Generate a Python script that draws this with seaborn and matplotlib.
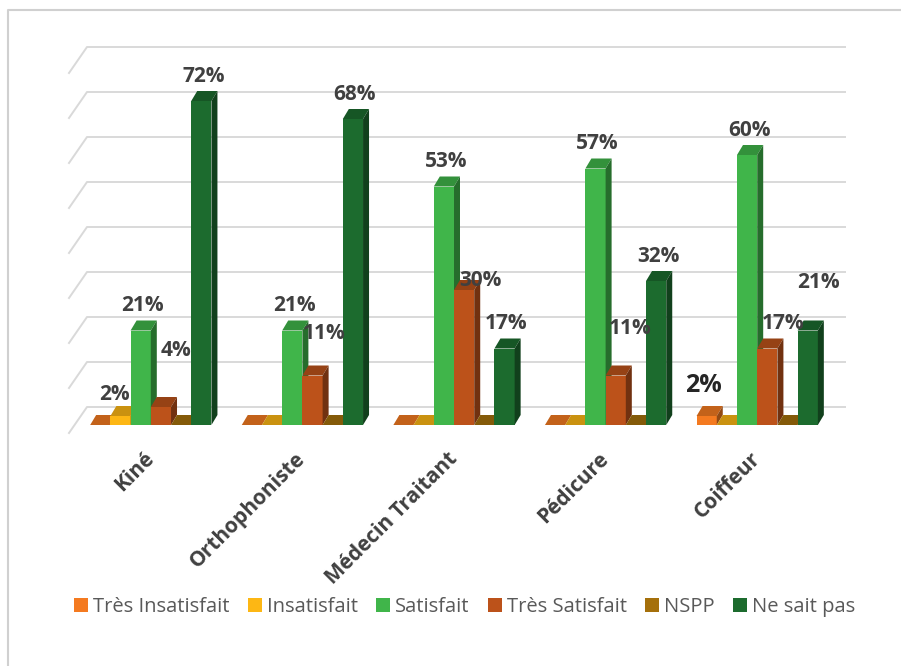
import numpy as np
import pandas as pd
import matplotlib.pyplot as plt
import matplotlib.colors as mcolors
from matplotlib.patches import Polygon, Patch
import seaborn as sns

# Data
services = ["Kiné", "Orthophoniste", "Médecin Traitant", "Pédicure", "Coiffeur"]
avis = ["Très Insatisfait", "Insatisfait", "Satisfait", "Très Satisfait", "NSPP", "Ne sait pas"]
tres_insatisfait = [0, 0, 0, 0, 2]
insatisfait = [2, 0, 0, 0, 0]
satisfait = [21, 21, 53, 57, 60]
tres_satisfait = [4, 11, 30, 11, 17]
nspp = [0, 0, 0, 0, 0]
ne_sait_pas = [72, 68, 17, 32, 21]
colors = ["#F47A20", "#FDB714", "#40B54A", "#BC521A", "#A5700B", "#1C6B2E"]

series = [tres_insatisfait, insatisfait, satisfait, tres_satisfait, nspp, ne_sait_pas]
df = pd.DataFrame({
    "service": np.repeat(services, len(avis)),
    "avis": avis * len(services),
    "pct": [series[j][i] for i in range(len(services)) for j in range(len(avis))],
})

# label nudges in pixels (dx, dy up) for the hand-placed Excel labels
nudges = {
    ("Kiné", "Insatisfait"): (-8, -3),
    ("Kiné", "Très Satisfait"): (13, 32),
    ("Orthophoniste", "Très Satisfait"): (10, 17),
    ("Médecin Traitant", "Très Satisfait"): (14, -16),
    ("Pédicure", "Très Satisfait"): (12, 22),
    ("Coiffeur", "Très Insatisfait"): (-5, 6),
    ("Coiffeur", "Très Satisfait"): (14, 0),
    ("Coiffeur", "Ne sait pas"): (9, 23),
}

W, H = 901, 666
fig = plt.figure(figsize=(W / 100, H / 100), dpi=100)
ax = fig.add_axes([75 / W, (H - 425) / H, 758 / W, 360 / H])

sns.barplot(data=df, x="service", y="pct", hue="avis", order=services,
            hue_order=avis, palette=colors, saturation=1, width=0.8,
            linewidth=0, legend=False, ax=ax)
ax.set_xlim(-0.5, 4.5)
ax.set_ylim(0, 80)
xpx = 758 / 5.0
ypx = 360 / 80.0

# 3D look: top and side faces for each bar
bdx, bdy = 6 / xpx, 10 / ypx
bars = sorted(ax.patches, key=lambda p: p.get_x())
for k, p in enumerate(bars):
    x0, w, h = p.get_x(), p.get_width(), p.get_height()
    c = np.array(mcolors.to_rgb(p.get_facecolor()))
    z = 2 + k * 0.01
    p.set_zorder(z)
    top = Polygon([(x0, h), (x0 + w, h), (x0 + w + bdx, h + bdy), (x0 + bdx, h + bdy)],
                  closed=True, facecolor=c * 0.8, edgecolor="none", zorder=z + 0.001,
                  clip_on=False)
    side = Polygon([(x0 + w, 0), (x0 + w + bdx, bdy), (x0 + w + bdx, h + bdy), (x0 + w, h)],
                   closed=True, facecolor=c * 0.6, edgecolor="none", zorder=z + 0.002,
                   clip_on=False)
    ax.add_patch(top)
    ax.add_patch(side)

# gridlines on back wall and left wall
gdx_b, gdy_b = 12 / xpx, 18 / ypx
gdx_f, gdy_f = -6 / xpx, -8 / ypx
for v in range(0, 90, 10):
    ax.plot([-0.5 + gdx_f, -0.5 + gdx_b, 4.5 + gdx_b], [v + gdy_f, v + gdy_b, v + gdy_b],
            color="#D9D9D9", lw=1.4, zorder=0.5, clip_on=False)

# data labels
for j, a in enumerate(avis):
    for i, s in enumerate(services):
        v = series[j][i]
        if v == 0:
            continue
        xc = i + (j - 2.5) * 0.8 / 6
        ndx, ndy = nudges.get((s, a), (0, 0))
        big = (s, a) == ("Coiffeur", "Très Insatisfait")
        ax.annotate(f"{v}%", (xc, v), xytext=((2 + ndx) * 0.72, (25 + ndy) * 0.72),
                    textcoords="offset points", ha="center", va="center",
                    fontsize=18 if big else 15, fontweight="bold",
                    color="#262626" if big else "#404040", family="Open Sans",
                    zorder=10, annotation_clip=False)

for sp in ax.spines.values():
    sp.set_visible(False)
ax.set_yticks([])
ax.set_xlabel("")
ax.set_ylabel("")
ax.tick_params(axis="x", length=0, pad=22)
ax.set_xticks(range(len(services)))
ax.set_xticklabels(services, rotation=45, ha="right", va="center", rotation_mode="anchor",
                   fontsize=15, fontweight="bold", color="#404040", family="Open Sans")

handles = [Patch(facecolor=c, edgecolor="none") for c in colors]
fig.legend(handles, avis, loc="center", bbox_to_anchor=(0.516, (H - 607) / H), ncol=6,
           frameon=False, handlelength=0.7, handleheight=0.7, handletextpad=0.25,
           columnspacing=0.9, prop={"family": "Open Sans", "size": 14.5},
           labelcolor="#595959")

# chart border (top and left visible)
fig.add_artist(plt.Line2D([8 / W, 8 / W, 1], [0, 1 - 10 / H, 1 - 10 / H],
                          color="#D0D0D0", lw=1.5))

fig.savefig("out.png", dpi=100)
